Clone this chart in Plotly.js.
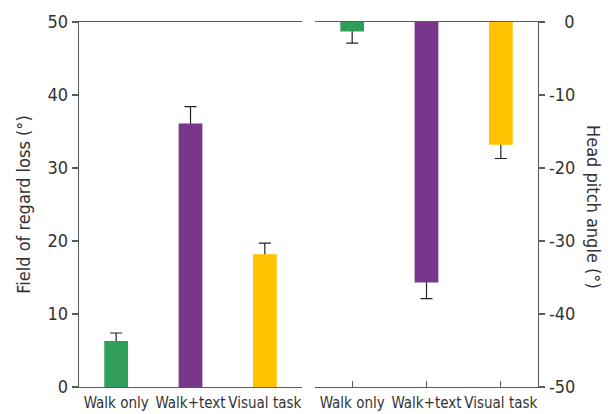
<!DOCTYPE html>
<html>
<head>
<meta charset="utf-8">
<script src="https://cdn.plot.ly/plotly-3.0.1.min.js"></script>
<style>
  html, body { margin: 0; padding: 0; background: #fff; }
  #chart { width: 614px; height: 414px; }
</style>
</head>
<body>
<div id="chart"></div>
<script>
// ---- data ----
const categories = ['Walk only', 'Walk+text', 'Visual task'];
const barColors = ['#2f9e5a', '#78378b', '#fec200'];

const fieldLoss = [6.3, 36.1, 18.2];
const fieldLossErr = [1.1, 2.3, 1.5];

const headPitch = [-1.3, -35.7, -16.8];
const headPitchErr = [1.6, 2.2, 1.9];

const leftTickVals = [0, 10, 20, 30, 40, 50];
const leftTickText = ['0', '10', '20', '30', '40', '50'];
const rightTickVals = [0, -10, -20, -30, -40, -50];
const rightTickText = ['\u2007\u20080', '-10', '-20', '-30', '-40', '-50'];

const leftTitle = 'Field of regard loss (°)';
const rightTitle = 'Head pitch angle (°)';

// ---- styling ----
const FONT = '"DejaVu Sans Condensed", "Liberation Sans Narrow", sans-serif';
const TXT = '#333333';
const AX = '#5a5a5a';
const BW = 0.32;

function errTrace(y, err, xa, ya) {
  return {
    type: 'bar', x: categories, y: y, xaxis: xa, yaxis: ya, width: BW,
    marker: { color: 'rgba(0,0,0,0)', line: { width: 0 } },
    error_y: { type: 'data', array: err, symmetric: true, color: '#222', thickness: 1.2, width: 6 },
    hoverinfo: 'skip', showlegend: false
  };
}
function barTrace(y, xa, ya) {
  return {
    type: 'bar', x: categories, y: y, xaxis: xa, yaxis: ya, width: BW,
    marker: { color: barColors, line: { width: 0 } },
    hoverinfo: 'skip', showlegend: false
  };
}

const data = [
  errTrace(fieldLoss, fieldLossErr, 'x', 'y'),
  barTrace(fieldLoss, 'x', 'y'),
  errTrace(headPitch, headPitchErr, 'x2', 'y2'),
  barTrace(headPitch, 'x2', 'y2')
];

const W = 614, H = 414;
const yDom = [1 - 387 / H, 1 - 22 / H];
const catFont = { family: FONT, size: 15, color: TXT };
const numFont = { family: FONT, size: 18, color: TXT };

const layout = {
  width: W, height: H,
  margin: { l: 0, r: 0, t: 0, b: 0 },
  paper_bgcolor: '#fff', plot_bgcolor: '#fff',
  barmode: 'overlay',
  font: { family: FONT, size: 18, color: TXT },
  showlegend: false,
  xaxis: {
    domain: [79 / W, 302 / W], anchor: 'y', type: 'category',
    showline: true, linecolor: AX, linewidth: 1.3, mirror: true,
    ticks: '', showgrid: false, zeroline: false, tickangle: 0,
    tickfont: catFont, ticklabelstandoff: 2,
    automargin: false, fixedrange: true
  },
  yaxis: {
    domain: yDom, anchor: 'x', range: [0, 50],
    tickvals: leftTickVals, ticktext: leftTickText,
    showline: true, linecolor: AX, linewidth: 1.3,
    ticks: 'outside', ticklen: 6, tickcolor: AX, tickwidth: 1.3,
    showgrid: false, zeroline: false,
    tickfont: numFont,
    title: { text: leftTitle, font: { family: FONT, size: 18, color: TXT }, standoff: 12 },
    automargin: false, fixedrange: true
  },
  xaxis2: {
    domain: [315 / W, 538 / W], anchor: 'y2', type: 'category',
    showline: true, linecolor: AX, linewidth: 1.3, mirror: true,
    ticks: 'inside', ticklen: 6, tickcolor: AX, tickwidth: 1.3,
    showgrid: false, zeroline: false, tickangle: 0,
    tickfont: catFont, ticklabelstandoff: 2,
    automargin: false, fixedrange: true
  },
  yaxis2: {
    domain: yDom, anchor: 'x2', side: 'right', range: [-50, 0],
    tickvals: rightTickVals, ticktext: rightTickText,
    showline: true, linecolor: AX, linewidth: 1.3,
    ticks: 'outside', ticklen: 6, tickcolor: AX, tickwidth: 1.3,
    showgrid: false, zeroline: false,
    tickfont: numFont,
    automargin: false, fixedrange: true
  },
  annotations: [{
    text: rightTitle, xref: 'paper', yref: 'paper',
    x: 594 / W, y: 1 - 207 / H, xanchor: 'center', yanchor: 'middle',
    textangle: 90, showarrow: false,
    font: { family: FONT, size: 18, color: TXT }
  }]
};

Plotly.newPlot('chart', data, layout, { staticPlot: true, displayModeBar: false });
</script>
</body>
</html>
